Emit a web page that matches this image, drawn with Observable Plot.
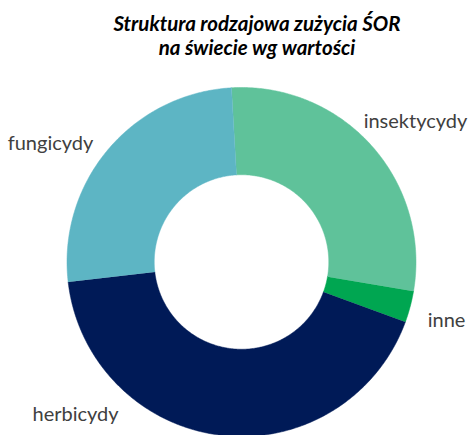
<!DOCTYPE html>
<html>
<head>
<meta charset="utf-8">
<script src="https://cdn.jsdelivr.net/npm/d3@7"></script>
<script src="https://cdn.jsdelivr.net/npm/@observablehq/plot@0.6"></script>
<style>
  html, body { margin: 0; padding: 0; background: #fff; }
</style>
</head>
<body>
<div id="chart"></div>
<script>
// ---- data ----
const categories = ["insektycydy", "inne", "herbicydy", "fungicydy"];
const shares = [28.6, 2.9, 42.6, 25.9];
const colors = ["#5fc29a", "#00a651", "#001a57", "#5db5c4"];
const title = "Struktura rodzajowa zużycia ŚOR\nna świecie wg wartości";

// ---- layout ----
const W = 469, H = 435;
const cx = 241, cy = 261.5, R = 174.5;
const innerRatio = 0.5;
const startAngle = -3.3 * Math.PI / 180;
const labelLayout = {
  insektycydy: {angle: 51.1, radius: 1.281},
  inne: {angle: 105.9, radius: 1.222},
  herbicydy: {angle: 227.4, radius: 1.292},
  fungicydy: {angle: 301.8, radius: 1.288}
};

const rows = categories.map((c, i) => ({name: c, value: shares[i]}));
const arcs = d3.pie().value(d => d.value).sort(null)
  .startAngle(startAngle).endAngle(startAngle + 2 * Math.PI)(rows);

const pts = [];
for (const a of arcs) {
  const n = Math.max(8, Math.ceil((a.endAngle - a.startAngle) / 0.01));
  for (let k = 0; k <= n; k++) {
    const t = a.startAngle + (a.endAngle - a.startAngle) * k / n;
    pts.push({name: a.data.name, x: Math.sin(t), y: Math.cos(t)});
  }
  for (let k = n; k >= 0; k--) {
    const t = a.startAngle + (a.endAngle - a.startAngle) * k / n;
    pts.push({name: a.data.name, x: innerRatio * Math.sin(t), y: innerRatio * Math.cos(t)});
  }
}

const labels = categories.map(c => {
  const L = labelLayout[c];
  const t = L.angle * Math.PI / 180;
  return {name: c, x: L.radius * Math.sin(t), y: L.radius * Math.cos(t)};
});

const font = "Lato, 'Open Sans', sans-serif";

const chart = Plot.plot({
  width: W,
  height: H,
  margin: 0,
  style: {background: "#fff", fontFamily: font, overflow: "hidden"},
  x: {domain: [-1, 1], range: [cx - R, cx + R], axis: null},
  y: {domain: [1, -1], range: [cy - R, cy + R], axis: null},
  color: {domain: categories, range: colors},
  marks: [
    Plot.line(pts, {x: "x", y: "y", z: "name", fill: "name", stroke: "name", strokeWidth: 0.5}),
    Plot.text(labels, {
      x: "x", y: "y", text: "name",
      fontSize: 20, fill: "#404040", textAnchor: "middle", lineAnchor: "middle",
      fontFamily: font
    }),
    Plot.text([title], {
      frameAnchor: "top", dx: 22, dy: 13, lineAnchor: "top",
      fontSize: 20.5, fontWeight: "bold", fontStyle: "italic",
      lineHeight: 1.17, fill: "#000", fontFamily: font
    })
  ]
});
document.getElementById("chart").appendChild(chart);
</script>
</body>
</html>
